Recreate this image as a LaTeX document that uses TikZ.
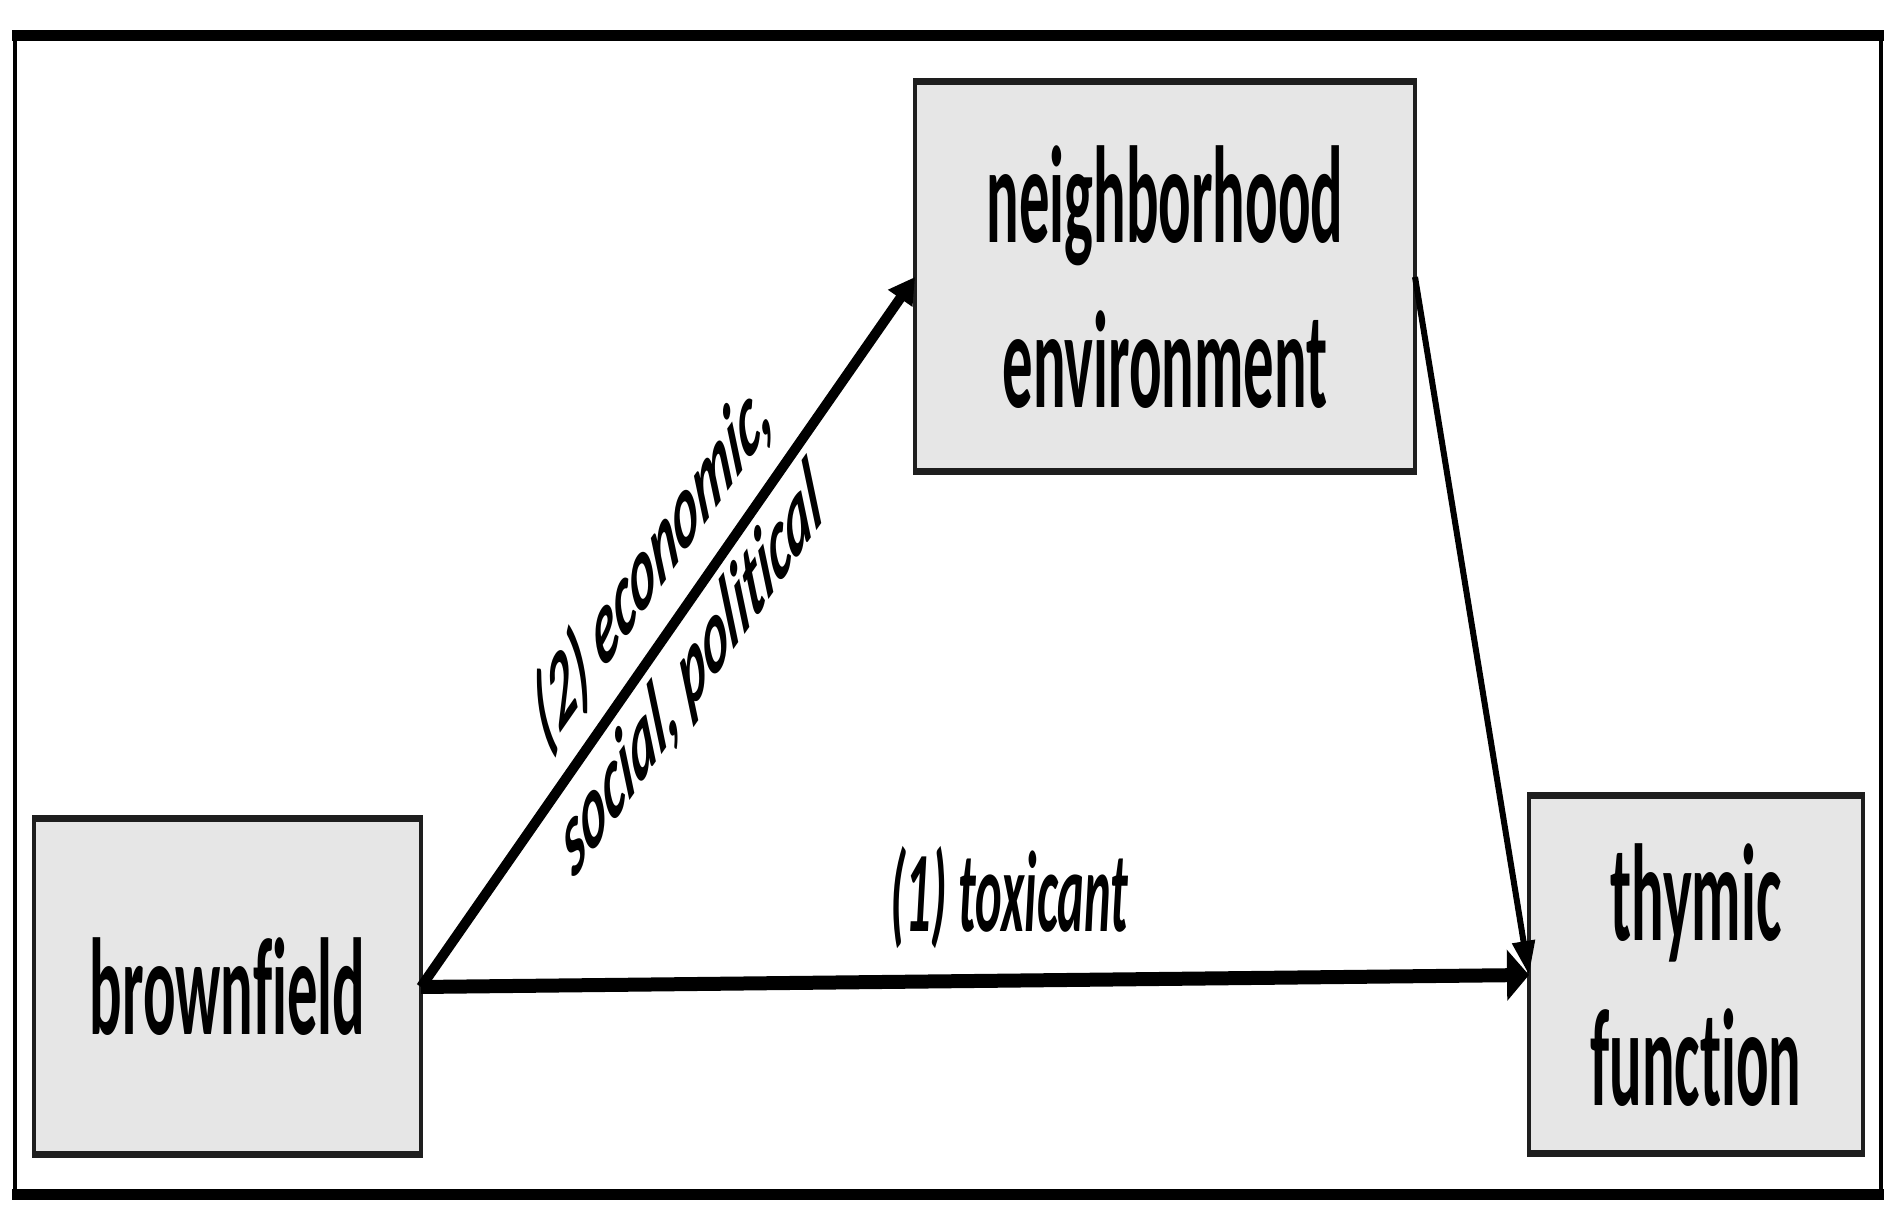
\documentclass[tikz,border=0pt]{standalone}
\usepackage{fontspec}
\usetikzlibrary{arrows.meta}
\newfontfamily\boxfont[FakeStretch=0.44,Ligatures=NoCommon]{Carlito}
\newfontfamily\labfont[Ligatures=NoCommon]{Carlito}
\definecolor{boxfill}{HTML}{E6E6E6}
\definecolor{boxline}{HTML}{1E1E1E}
\begin{document}
\begin{tikzpicture}[x=1pt,y=1pt,
  box/.style={draw=boxline, fill=boxfill, line width=3.5pt, inner sep=0pt, outer sep=0pt,
    font=\boxfont\bfseries\fontsize{138}{165}\selectfont, align=center},
  hedge/.style={draw=boxline, line width=7pt},
  frameh/.style={draw=black, line width=11pt},
  framev/.style={draw=black, line width=4.5pt},
  conn/.style={draw=black},
  toxlabel/.style={font=\boxfont\bfseries\itshape\fontsize{115}{138}\selectfont, inner sep=0pt},
  rotlabel/.style={font=\labfont\bfseries\itshape\fontsize{110}{128}\selectfont, inner sep=0pt,
    anchor=base, rotate=32.36, transform shape}
]
\useasboundingbox (0,0) rectangle (1895,1217);
% outer frame
\draw[frameh] (12,1181) -- (1884,1181);
\draw[frameh] (12,22) -- (1884,22);
\draw[framev] (15,1181) -- (15,22);
\draw[framev] (1881,1181) -- (1881,22);
% boxes
\node[box, minimum width=387pt, minimum height=336pt] (bf) at (227.5,230) {brownfield};
\node[box, minimum width=500pt, minimum height=390pt] (ne) at (1165,940) {neighborhood\\environment};
\node[box, minimum width=334pt, minimum height=358pt] (th) at (1696,242) {thymic\\function};
\foreach \n in {bf,ne,th}{
  \draw[hedge] ([xshift=-1.75pt]\n.north west) -- ([xshift=1.75pt]\n.north east);
  \draw[hedge] ([xshift=-1.75pt]\n.south west) -- ([xshift=1.75pt]\n.south east);
}
% connectors
\draw[conn, line width=14pt, -{Triangle[length=22pt,width=50pt]}] (bf.east) -- (th.west);
\draw[conn, line width=10pt, -{Triangle[length=26pt,width=28pt]}] (bf.east) -- (ne.west);
\draw[conn, line width=6pt, -{Triangle[length=34pt,width=22pt]}] (ne.east) -- (th.west);
% labels
\node[toxlabel, anchor=base] (tox) at (1009,285) {(1) toxicant};
\begin{scope}[xscale=0.44]
\node[rotlabel] (ecolabA) at (1500,628) {(2) economic,};
\node[rotlabel] (ecolabB) at (1590,517.6) {social, political};
\end{scope}
\end{tikzpicture}
\end{document}
